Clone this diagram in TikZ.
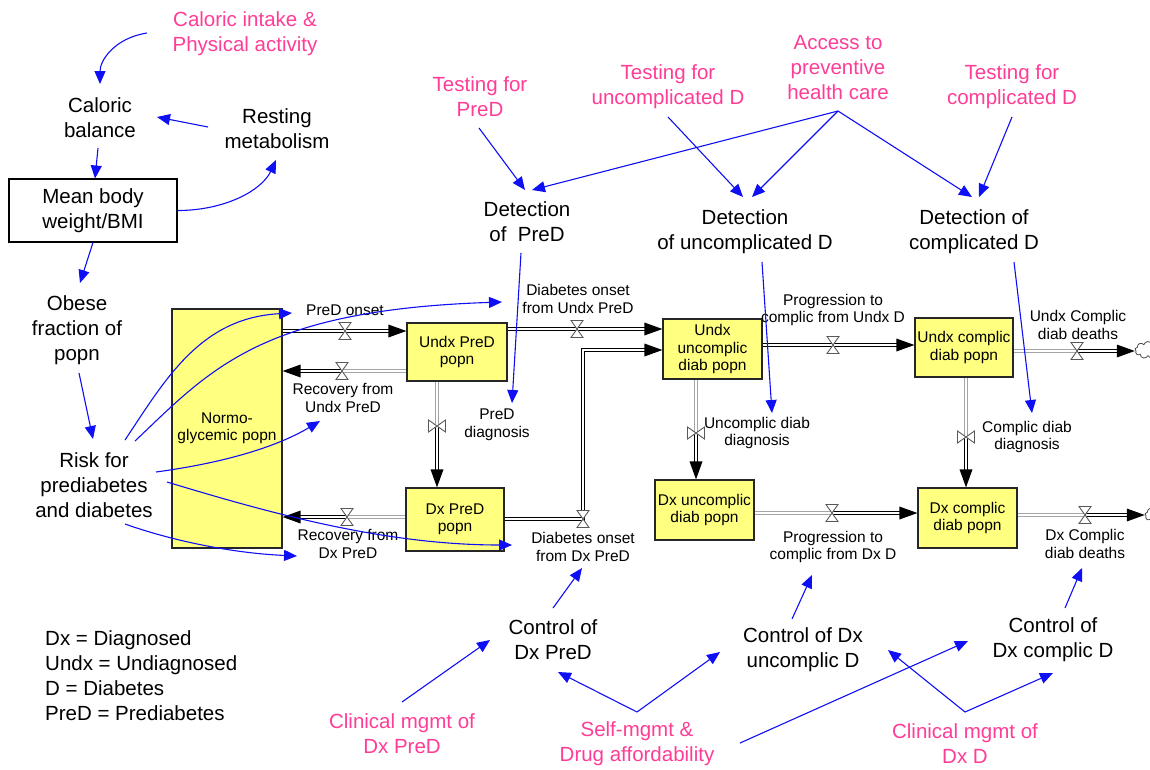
\documentclass[tikz,border=0pt]{standalone}
\usepackage{fontspec}
\setmainfont{Liberation Sans}
\usetikzlibrary{arrows.meta,calc,shapes.symbols}

\definecolor{extpink}{RGB}{255,60,150}
\definecolor{linkblue}{RGB}{15,15,245}
\definecolor{stockfill}{RGB}{255,255,128}
\definecolor{pipegrey}{RGB}{165,165,165}

\tikzset{
  big/.style={font=\fontsize{20.5}{25}\selectfont, align=center, inner sep=2pt},
  ext/.style={big, text=extpink},
  small/.style={font=\fontsize{15.5}{17.5}\selectfont, align=center, inner sep=1pt},
  stock/.style={small, draw=black!85, line width=1.2pt, fill=stockfill, inner sep=0pt},
  link/.style={draw=linkblue, line width=1.1pt, -{Triangle[length=13pt,width=11pt]}},
  pipe/.style={draw=black, line width=1.2pt, double=white, double distance=2.4pt},
  pipeg/.style={pipe, draw=pipegrey},
  tipped/.style={shorten >=16pt},
  valve/.style={draw=black!65, fill=white, line width=0.9pt},
  valveh/.pic={\path[valve] (-6,-8.5) -- (6,-8.5) -- (-6,8.5) -- (6,8.5) -- cycle;},
  valvev/.pic={\path[valve] (-8.5,-6) -- (-8.5,6) -- (8.5,-6) -- (8.5,6) -- cycle;},
  tipR/.pic={\fill (0,0) -- (-18,-6.5) -- (-18,6.5) -- cycle;},
  tipL/.pic={\fill (0,0) -- (18,-6.5) -- (18,6.5) -- cycle;},
  tipD/.pic={\fill (0,0) -- (-6.5,-18) -- (6.5,-18) -- cycle;},
  sink/.style={cloud, cloud puffs=9, aspect=1.6, draw=black!70, fill=white,
    line width=0.8pt, minimum width=26pt, minimum height=17pt, inner sep=0pt},
}

\begin{document}
\begin{tikzpicture}[x=1pt, y=-1pt]
\useasboundingbox (0,0) rectangle (1150,769);

% ---------- body weight sector ----------
\node[ext] (calin) at (245,34) {Caloric intake \&\\Physical activity};
\node[big] (calbal) at (100,118) {Caloric\\balance};
\node[big] (resting) at (277,129) {Resting\\metabolism};
\node[big, draw=black, line width=1.1pt, minimum width=168pt, minimum height=63pt]
  (bmi) at (93,210.5) {Mean body\\weight/BMI};
\node[big] (obese) at (77,330) {Obese\\fraction of\\popn};
\node[big] (risk) at (94,485) {Risk for\\prediabetes\\and diabetes};

% ---------- stocks ----------
\node[stock, minimum width=110pt, minimum height=239pt] (normo) at (227,428.5) {Normo-\\glycemic popn};
\node[stock, minimum width=100pt, minimum height=58pt] (undxpred) at (457,352) {Undx PreD\\popn};
\node[stock, minimum width=98pt, minimum height=63pt] (dxpred) at (455,519.5) {Dx PreD\\popn};
\node[stock, minimum width=99pt, minimum height=60pt] (undxunc) at (712.5,349) {Undx\\uncomplic\\diab popn};
\node[stock, minimum width=99pt, minimum height=60pt] (dxunc) at (704.5,510) {Dx uncomplic\\diab popn};
\node[stock, minimum width=98pt, minimum height=59pt] (undxcomp) at (964,347.5) {Undx complic\\diab popn};
\node[stock, minimum width=99pt, minimum height=60pt] (dxcomp) at (967.5,518) {Dx complic\\diab popn};

\begin{scope}
  \clip (0,0) rectangle (1150,769);
  \node[sink] (sink1) at (1148,350) {};
  \node[sink] (sink2) at (1158,515) {};
\end{scope}

% ---------- flows ----------
\coordinate (v1) at (345,331);
\coordinate (v2) at (342,371);
\coordinate (v3) at (437,426);
\coordinate (v4) at (347,517);
\coordinate (v5) at (577,329);
\coordinate (v6) at (583,519);
\coordinate (c6) at (583,350);
\coordinate (v7) at (833,345);
\coordinate (v8) at (696,433);
\coordinate (v9) at (832,513);
\coordinate (v10) at (966,437);
\coordinate (v11) at (1077,351);
\coordinate (v12) at (1085,515);

% PreD onset
\draw[pipe, tipped] (normo.east |- v1) -- (undxpred.west |- v1);
\pic at (undxpred.west |- v1) {tipR};
\pic at (v1) {valveh};
% Recovery from Undx PreD
\draw[pipeg] (undxpred.west |- v2) -- (v2);
\draw[pipe, tipped] (v2) -- (normo.east |- v2);
\pic at (normo.east |- v2) {tipL};
\pic at (v2) {valveh};
% PreD diagnosis
\draw[pipeg] (undxpred.south -| v3) -- (v3);
\draw[pipe, tipped] (v3) -- (dxpred.north -| v3);
\pic at (dxpred.north -| v3) {tipD};
\pic at (v3) {valvev};
% Recovery from Dx PreD
\draw[pipeg] (dxpred.west |- v4) -- (v4);
\draw[pipe, tipped] (v4) -- (normo.east |- v4);
\pic at (normo.east |- v4) {tipL};
\pic at (v4) {valveh};
% Diabetes onset from Undx PreD
\draw[pipe, tipped] (undxpred.east |- v5) -- (undxunc.west |- v5);
\pic at (undxunc.west |- v5) {tipR};
\pic at (v5) {valveh};
% Diabetes onset from Dx PreD
\draw[pipe, tipped] (dxpred.east |- v6) -- (v6) -- (c6) -- (undxunc.west |- c6);
\pic at (undxunc.west |- c6) {tipR};
\pic at (v6) {valveh};
% Progression to complic from Undx D
\draw[pipe, tipped] (undxunc.east |- v7) -- (undxcomp.west |- v7);
\pic at (undxcomp.west |- v7) {tipR};
\pic at (v7) {valveh};
% Uncomplic diab diagnosis
\draw[pipeg] (undxunc.south -| v8) -- (v8);
\draw[pipe, tipped] (v8) -- (dxunc.north -| v8);
\pic at (dxunc.north -| v8) {tipD};
\pic at (v8) {valvev};
% Progression to complic from Dx D
\draw[pipeg] (dxunc.east |- v9) -- (v9);
\draw[pipe, tipped] (v9) -- (dxcomp.west |- v9);
\pic at (dxcomp.west |- v9) {tipR};
\pic at (v9) {valveh};
% Complic diab diagnosis
\draw[pipeg] (undxcomp.south -| v10) -- (v10);
\draw[pipe, tipped] (v10) -- (dxcomp.north -| v10);
\pic at (dxcomp.north -| v10) {tipD};
\pic at (v10) {valvev};
% Undx complic diab deaths
\draw[pipeg] (undxcomp.east |- v11) -- (v11);
\draw[pipe, tipped] (v11) -- (sink1.west |- v11);
\pic at (sink1.west |- v11) {tipR};
\pic at (v11) {valveh};
% Dx complic diab deaths
\draw[pipeg] (dxcomp.east |- v12) -- (v12);
\draw[pipe, tipped] (v12) -- (sink2.west |- v12);
\pic at (sink2.west |- v12) {tipR};
\pic at (v12) {valveh};

% ---------- flow labels ----------
\node[small] (lPredOnset) at (345,310) {PreD onset};
\node[small] (lRecU) at (343,398) {Recovery from\\Undx PreD};
\node[small] (lPredDiag) at (497,425) {PreD\\diagnosis};
\node[small] (lRecD) at (348,544) {Recovery from\\Dx PreD};
\node[small] (lOnsetU) at (578,299) {Diabetes onset\\from Undx PreD};
\node[small] (lOnsetD) at (583,547) {Diabetes onset\\from Dx PreD};
\node[small] (lProgU) at (833,310) {Progression to\\complic from Undx D};
\node[small] (lUncDiag) at (757,433) {Uncomplic diab\\diagnosis};
\node[small] (lProgD) at (833,547) {Progression to\\complic from Dx D};
\node[small] (lCompDiag) at (1027,437) {Complic diab\\diagnosis};
\node[small] (lDeathU) at (1078,325) {Undx Complic\\diab deaths};
\node[small] (lDeathD) at (1085,544) {Dx Complic\\diab deaths};

% ---------- detection sector ----------
\node[ext] (testpred) at (480,97) {Testing for\\PreD};
\node[ext] (testunc) at (668,87) {Testing for\\uncomplicated D};
\node[ext] (access) at (838,68) {Access to\\preventive\\health care};
\node[ext] (testcomp) at (1012,87) {Testing for\\complicated D};
\node[big] (detpred) at (527,222) {Detection\\of~~PreD};
\node[big] (detunc) at (745,232) {Detection\\of uncomplicated D};
\node[big] (detcomp) at (974,232) {Detection of\\complicated D};

% ---------- control sector ----------
\node[big] (ctrlpred) at (553,640) {Control of\\Dx PreD};
\node[big] (ctrlunc) at (803,650) {Control of Dx\\uncomplic D};
\node[big] (ctrlcomp) at (1053,640) {Control of\\Dx complic D};
\node[ext] (clinpred) at (402,734) {Clinical mgmt of\\Dx PreD};
\node[ext] (selfm) at (637,744) {Self-mgmt \&\\Drug affordability};
\node[ext] (clind) at (965,744) {Clinical mgmt of\\Dx D};

\node[big, align=left, anchor=west] (legend) at (43,675.5)
  {Dx = Diagnosed\\Undx = Undiagnosed\\D = Diabetes\\PreD = Prediabetes};

% ---------- causal links ----------
\draw[link] ($(calin)+(-98,-1)$) .. controls +(-32,5) and +(0,-24) .. ($(calbal)+(0,-34)$);
\draw[link] ($(resting)+(-69,-2)$) -- ($(calbal)+(57,-1)$);
\draw[link] ($(calbal)+(-2,30)$) -- ($(bmi)+(2,-32)$);
\draw[link] (bmi.east) .. controls +(48,0) and +(-14,30) .. ($(resting)+(-1,31)$);
\draw[link] ($(bmi)+(0,32)$) -- ($(obese)+(3,-47)$);
\draw[link] ($(obese)+(2,43)$) -- ($(risk)+(-1,-46)$);

\draw[link] ($(risk)+(31,-45)$) .. controls +(40,-60) and +(-92,5) .. ($(lPredOnset)+(-53,3)$);
\draw[link] ($(risk)+(41,-44)$) .. controls +(75,-71) and +(-242,8) .. ($(lOnsetU)+(-76,3)$);
\draw[link] ($(risk)+(62,-13)$) .. controls +(74,-10) and +(-40,24) .. ($(lRecU)+(-23,23)$);
\draw[link] ($(risk)+(73,-3)$) .. controls +(93,28) and +(-132,0) .. ($(lOnsetD)+(-71,-2)$);
\draw[link] ($(risk)+(31,39)$) .. controls +(45,16) and +(-67,-3) .. ($(lRecD)+(-51,12)$);

\draw[link] ($(testpred)+(-1,31)$) -- ($(detpred)+(-2,-32)$);
\draw[link] ($(access)+(0,43)$) -- ($(detpred)+(5,-32)$);
\draw[link] ($(testunc)+(0,30)$) -- ($(detunc)+(-2,-35)$);
\draw[link] ($(access)+(0,43)$) -- ($(detunc)+(7,-35)$);
\draw[link] ($(access)+(0,43)$) -- ($(detcomp)+(-2,-35)$);
\draw[link] ($(testcomp)+(0,30)$) -- ($(detcomp)+(5,-35)$);

\draw[link] ($(detpred)+(-6,31)$) -- ($(lPredDiag)+(15,-22)$);
\draw[link] ($(detunc)+(17,30)$) -- ($(lUncDiag)+(15,-20)$);
\draw[link] ($(detcomp)+(40,30)$) -- ($(lCompDiag)+(5,-24)$);

\draw[link] ($(ctrlpred)+(0,-32)$) -- ($(lOnsetD)+(-1,21)$);
\draw[link] ($(ctrlunc)+(-11,-31)$) -- ($(lProgD)+(-21,28)$);
\draw[link] ($(ctrlcomp)+(12,-32)$) -- ($(lDeathD)+(-3,24)$);

\draw[link] ($(clinpred)+(0,-32)$) -- ($(ctrlpred)+(-63,0)$);
\draw[link] ($(selfm)+(0,-32)$) -- ($(ctrlpred)+(5,32)$);
\draw[link] ($(selfm)+(0,-32)$) -- ($(ctrlunc)+(-83,2)$);
\draw[link] ($(selfm)+(103,-1)$) -- ($(ctrlcomp)+(-85,1)$);
\draw[link] ($(clind)+(0,-32)$) -- ($(ctrlunc)+(85,0)$);
\draw[link] ($(clind)+(0,-32)$) -- ($(ctrlcomp)+(0,33)$);
\end{tikzpicture}
\end{document}
